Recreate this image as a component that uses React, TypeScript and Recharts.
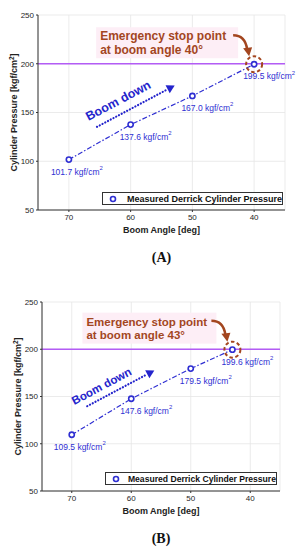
import React from 'react';
import {
  LineChart,
  Line,
  XAxis,
  YAxis,
  CartesianGrid,
  ReferenceLine,
  ReferenceDot,
  LabelList,
  Legend,
} from 'recharts';

// boom angle [deg] and measured derrick cylinder pressure [kgf/cm2]
const anglesA = [70, 60, 50, 40];
const pressureA = [101.7, 137.6, 167.0, 199.5];
const anglesB = [70, 60, 50, 43];
const pressureB = [109.5, 147.6, 179.5, 199.6];

const angleTicks = [40, 50, 60, 70];
const pressureTicks = [50, 100, 150, 200, 250];
const limitPressure = 200;

// where the "Boom down" note sits, in data units
const boomNoteA = [62, 162];
const boomNoteB = [65, 161];

const FONT = '"Liberation Sans", Arial, sans-serif';
const BLUE = '#2f2fd2';
const BROWN = '#a3461f';
const PURPLE = '#b35cf5';

function DataLabel(props: any) {
  const { x, y, value, index, fontSize } = props;
  const lx = x - (index === 0 ? 18 : 11);
  const ly = y + 12;
  return (
    <text x={lx} y={ly} fill={BLUE} fontSize={fontSize} fontFamily={FONT} dominantBaseline="central">
      {Number(value).toFixed(1)} kgf/cm
      <tspan dy={-3.5} fontSize={fontSize * 0.7}>2</tspan>
    </text>
  );
}

function StopMark(props: any) {
  const { cx, cy, stopAngle, fs, tx, l2 } = props;
  return (
    <g>
      <rect x={cx - tx - 4} y={cy - 37} width={tx - 12} height={31} fill="#fdeef6" />
      <text x={cx - tx} y={cy - 28} fill={BROWN} fontSize={fs} fontWeight="bold" fontFamily={FONT} dominantBaseline="central">
        Emergency stop point
      </text>
      <text x={cx - tx} y={cy - l2} fill={BROWN} fontSize={fs} fontWeight="bold" fontFamily={FONT} dominantBaseline="central">
        {`at boom angle ${stopAngle}°`}
      </text>
      <path d={`M${cx - 21},${cy - 29} Q${cx - 9},${cy - 29} ${cx - 7},${cy - 15}`} fill="none" stroke={BROWN} strokeWidth={2.5} />
      <polygon points={`${cx - 5},${cy - 8} ${cx - 11},${cy - 16} ${cx - 2},${cy - 17}`} fill={BROWN} />
      <circle cx={cx} cy={cy} r={8} fill="none" stroke={BROWN} strokeWidth={2} strokeDasharray="3.5 2.5" />
    </g>
  );
}

function BoomNote(props: any) {
  const { cx, cy, fs, u1, u2, v } = props;
  return (
    <g transform={`translate(${cx},${cy}) rotate(-28)`}>
      <text x={0} y={0} textAnchor="middle" dominantBaseline="central" fill="#2424cc" fontSize={fs} fontWeight="bold" fontFamily={FONT}>
        Boom down
      </text>
      <line x1={u1} y1={v} x2={u2} y2={v} stroke="#2424cc" strokeWidth={2.2} strokeDasharray="0.1 3" strokeLinecap="round" />
      <polygon points={`${u2 + 8},${v} ${u2},${v - 4.5} ${u2},${v + 4.5}`} fill="#2424cc" />
    </g>
  );
}

function LegendBox({ fs }: { fs: number }) {
  return (
    <div
      style={{
        boxSizing: 'border-box',
        width: '100%',
        height: '100%',
        border: '1px solid #333',
        background: '#fff',
        display: 'flex',
        alignItems: 'center',
        fontFamily: FONT,
        fontWeight: 'bold',
        fontSize: fs,
        color: '#111',
        whiteSpace: 'nowrap',
      }}
    >
      <svg width={18} height={10} style={{ marginLeft: 4, marginRight: 3 }}>
        <circle cx={6} cy={5} r={2.5} fill="#fff" stroke={BLUE} strokeWidth={1.6} />
      </svg>
      Measured Derrick Cylinder Pressure
    </div>
  );
}

function PressureChart(props: any) {
  const { angles, pressures, stopAngle, tag, top, height, right, yw, labelX, legend, note, noteCfg, stopCfg, fs } = props;
  const data = angles.map((a: number, i: number) => ({ angle: a, pressure: pressures[i] }));
  const last = data[data.length - 1];
  return (
    <div style={{ position: 'absolute', left: 0, top }}>
      <LineChart width={305} height={height} data={data} margin={{ top: 15, right, left: 0, bottom: 0 }}>
        <CartesianGrid stroke="#e6e6e6" strokeWidth={0.8} />
        <XAxis
          dataKey="angle"
          type="number"
          domain={[35, 75]}
          reversed
          ticks={angleTicks}
          height={30}
          tickSize={2}
          tickMargin={2}
          stroke="#333"
          tick={{ fontSize: 8, fill: '#262626', fontFamily: FONT }}
          label={(p: any) => {
            const vb = p.viewBox;
            return (
              <text x={vb.x + vb.width / 2} y={vb.y + 20} textAnchor="middle" dominantBaseline="central" fontSize={9} fontWeight="bold" fontFamily={FONT} fill="#222">
                Boom Angle [deg]
              </text>
            );
          }}
        />
        <YAxis
          type="number"
          domain={[50, 250]}
          ticks={pressureTicks}
          width={yw}
          tickSize={2}
          tickMargin={2}
          stroke="#333"
          tick={{ fontSize: 8, fill: '#262626', fontFamily: FONT }}
          label={(p: any) => {
            const vb = p.viewBox;
            const x = vb.x + labelX;
            const y = vb.y + vb.height / 2;
            return (
              <text x={x} y={y} transform={`rotate(-90 ${x} ${y})`} textAnchor="middle" dominantBaseline="central" fontSize={9} fontWeight="bold" fontFamily={FONT} fill="#222">
                Cylinder Pressure [kgf/cm
                <tspan dy={-3} fontSize={6.5}>2</tspan>
                <tspan dy={3}>]</tspan>
              </text>
            );
          }}
        />
        <ReferenceLine y={limitPressure} stroke={PURPLE} strokeWidth={1.6} />
        <Line
          dataKey="pressure"
          stroke={BLUE}
          strokeWidth={1.2}
          strokeDasharray="5 2 1.5 2"
          dot={{ r: 2.6, fill: '#fff', stroke: BLUE, strokeWidth: 1.6, strokeDasharray: '' }}
          isAnimationActive={false}
        >
          <LabelList dataKey="pressure" content={(p: any) => <DataLabel {...p} fontSize={fs} />} />
        </Line>
        <ReferenceDot
          x={last.angle}
          y={last.pressure}
          r={8}
          shape={(p: any) => <StopMark {...p} stopAngle={stopAngle} {...stopCfg} />}
        />
        <ReferenceDot x={note[0]} y={note[1]} r={1} shape={(p: any) => <BoomNote {...p} {...noteCfg} />} />
        <Legend
          layout="horizontal"
          verticalAlign="middle"
          align="center"
          wrapperStyle={{ position: 'absolute', left: legend[0], top: legend[1], width: legend[2], height: 13 }}
          content={() => <LegendBox fs={legend[3]} />}
        />
      </LineChart>
      <div
        style={{
          position: 'absolute',
          left: yw,
          width: 305 - yw - right,
          top: height + 10,
          height: 16,
          lineHeight: '16px',
          textAlign: 'center',
          fontFamily: '"Liberation Serif", "Times New Roman", serif',
          fontWeight: 'bold',
          fontSize: 14,
          color: '#111',
        }}
      >
        {tag}
      </div>
    </div>
  );
}

export default function App() {
  return (
    <div style={{ position: 'absolute', left: 0, top: 0, width: 305, height: 550, background: '#fff' }}>
      <PressureChart
        angles={anglesA}
        pressures={pressureA}
        stopAngle={40}
        tag="(A)"
        top={0}
        height={240}
        right={20}
        yw={38}
        labelX={14}
        fs={8.5}
        legend={[102, 192, 181, 9]}
        note={boomNoteA}
        noteCfg={{ fs: 12.5, u1: -31, u2: 49, v: 13 }}
        stopCfg={{ fs: 12, tx: 154, l2: 14 }}
      />
      <PressureChart
        angles={anglesB}
        pressures={pressureB}
        stopAngle={43}
        tag="(B)"
        top={287}
        height={234}
        right={25}
        yw={42}
        labelX={18}
        fs={8.5}
        legend={[105, 185, 172, 8.6]}
        note={boomNoteB}
        noteCfg={{ fs: 11.5, u1: -22, u2: 46, v: 11 }}
        stopCfg={{ fs: 11.5, tx: 146, l2: 15 }}
      />
    </div>
  );
}
